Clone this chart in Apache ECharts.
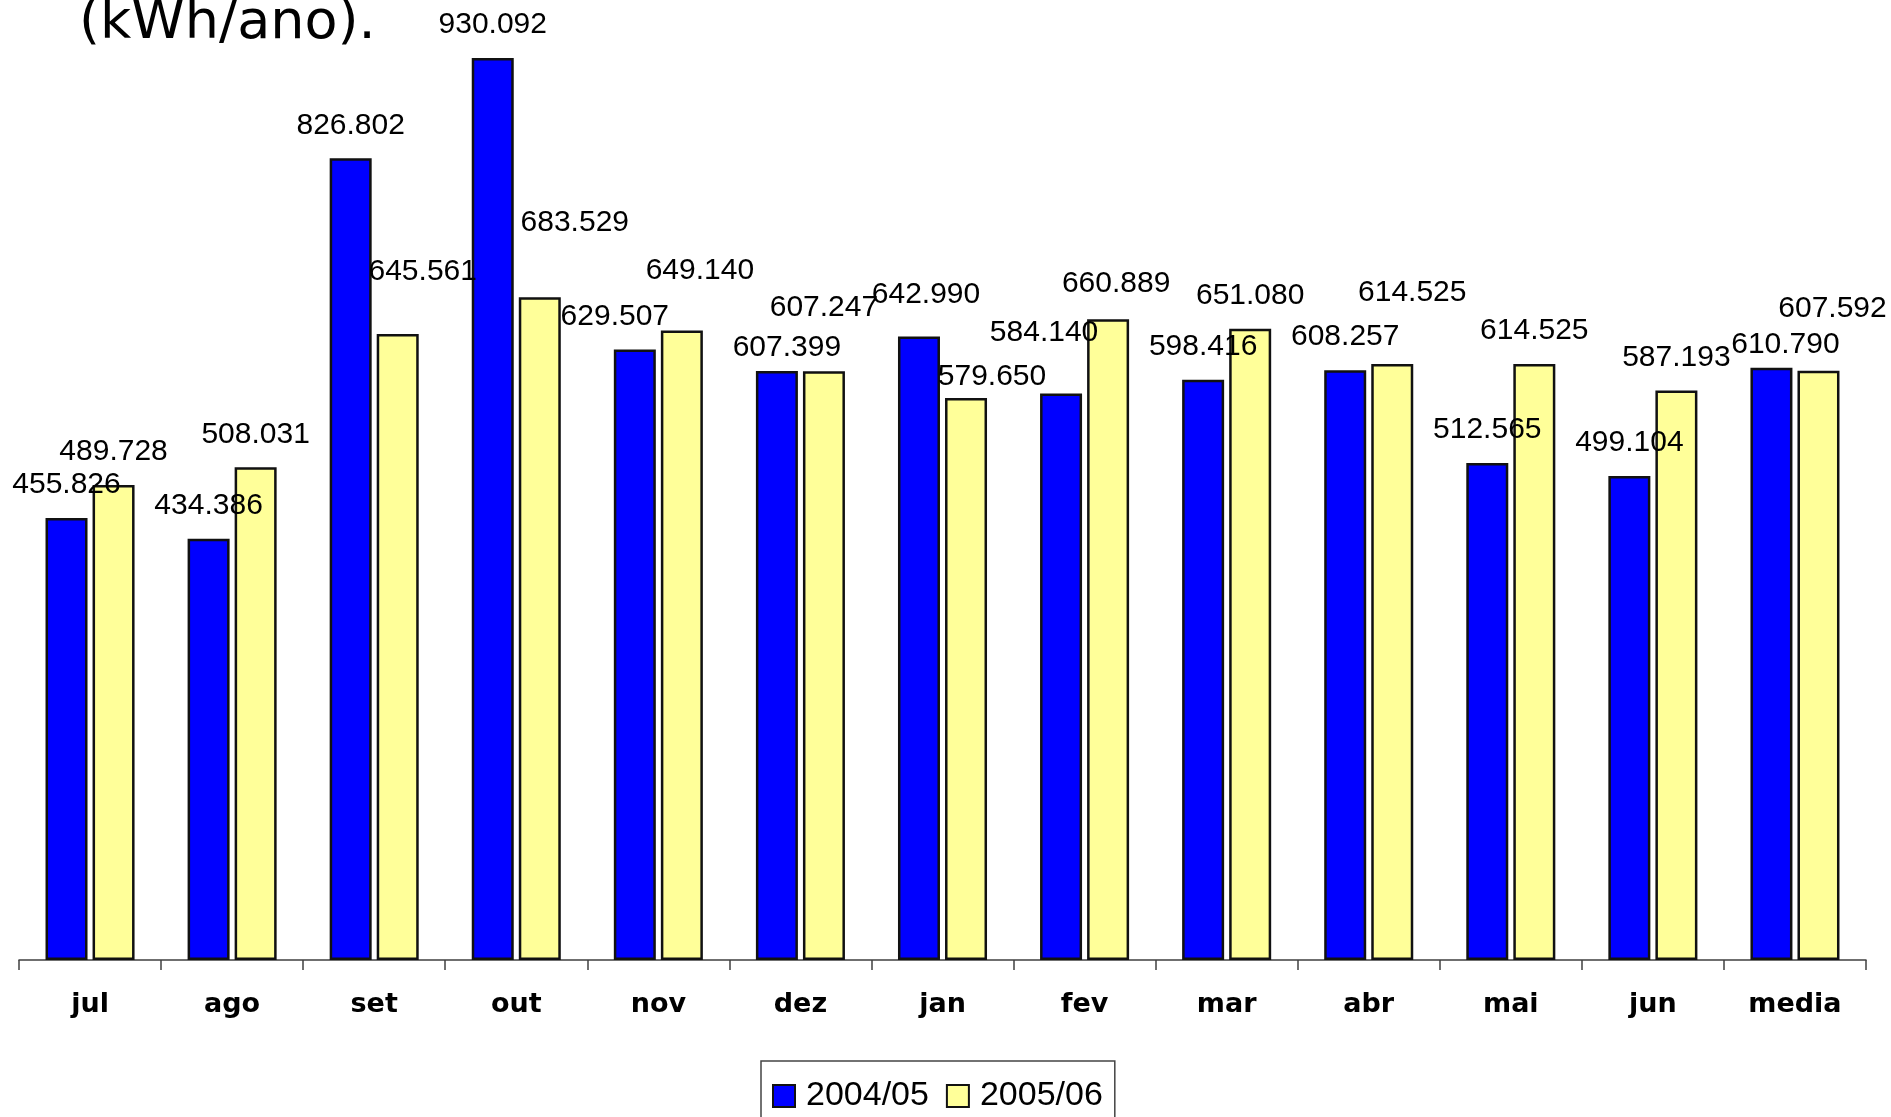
<!DOCTYPE html>
<html><head><meta charset="utf-8">
<script src="https://cdn.jsdelivr.net/npm/echarts@6/dist/echarts.min.js"></script>
<style>html,body{margin:0;padding:0;background:#fff}#c{width:1891px;height:1117px}</style>
</head><body><div id="c"></div>
<script>
const categories = ['jul','ago','set','out','nov','dez','jan','fev','mar','abr','mai','jun','media'];
const seriesNames = ['2004/05','2005/06'];
const values2004 = [455826, 434386, 826802, 930092, 629507, 607399, 642990, 584140, 598416, 608257, 512565, 499104, 610790];
const values2005 = [489728, 508031, 645561, 683529, 649140, 607247, 579650, 660889, 651080, 614525, 614525, 587193, 607592];
const titleText = '(kWh/ano).';

// label nudges from the default "top" position (styling only)
const nudge2004 = [[0,0],[0,0],[0,0],[0,0],[-20,0],[10,10],[7,-9],[-17,-28],[0,0],[0,0],[0,0],[0,0],[14,10]];
const nudge2005 = [[0,0],[0,0],[25,-29],[35,-41],[18,-27],[0,-30],[26,12],[8,-2],[0,0],[20,-38],[0,0],[0,0],[14,-29]];

function fmt(v){ return String(v).replace(/\B(?=(\d{3})+(?!\d))/g, '.'); }
function items(vals, nudges){ return vals.map((v,i)=>({value:v, label:{offset:nudges[i]}})); }

const labelStyle = {
  show: true, position: 'top', distance: 18,
  fontFamily: 'Liberation Sans', fontSize: 30, lineHeight: 30, color: '#000',
  formatter: p => fmt(p.value)
};

const chart = echarts.init(document.getElementById('c'), null, {renderer:'canvas'});
chart.setOption({
  animation: false,
  backgroundColor: '#fff',
  graphic: [{
    type: 'text', x: 79, y: 24,
    style: { text: titleText, font: '54px "DejaVu Sans"', fill: '#000', align: 'left', verticalAlign: 'middle' }
  }],
  grid: { left: 19, right: 25, top: 0, bottom: 157, containLabel: false },
  legend: {
    data: seriesNames,
    left: 761, top: 1061,
    orient: 'horizontal',
    itemWidth: 22, itemHeight: 22, itemGap: 17,
    padding: [18, 12, 18, 11],
    borderColor: '#444', borderWidth: 1.5,
    textStyle: { fontFamily: 'Liberation Sans', fontSize: 34, color: '#000', padding: [0,0,0,6] },
    icon: 'rect'
  },
  xAxis: {
    type: 'category', data: categories,
    axisLine: { lineStyle: { color: '#404040', width: 1.5 } },
    axisTick: { show: true, length: 10, lineStyle: { color: '#404040', width: 1.5 } },
    axisLabel: { margin: 31, fontFamily: 'DejaVu Sans', fontWeight: 'bold', fontSize: 27, color: '#000' },
    splitLine: { show: false }
  },
  yAxis: {
    type: 'value', min: 0, max: 990000,
    show: false, splitLine: { show: false }
  },
  series: [
    { name: seriesNames[0], type: 'bar', barWidth: 42, barGap: '12%',
      itemStyle: { color: '#0000FF', borderColor: '#111', borderWidth: 2.5 },
      label: labelStyle, data: items(values2004, nudge2004) },
    { name: seriesNames[1], type: 'bar', barWidth: 42, barGap: '12%',
      itemStyle: { color: '#FFFF99', borderColor: '#111', borderWidth: 2.5 },
      label: labelStyle, data: items(values2005, nudge2005) }
  ]
});
</script></body></html>
